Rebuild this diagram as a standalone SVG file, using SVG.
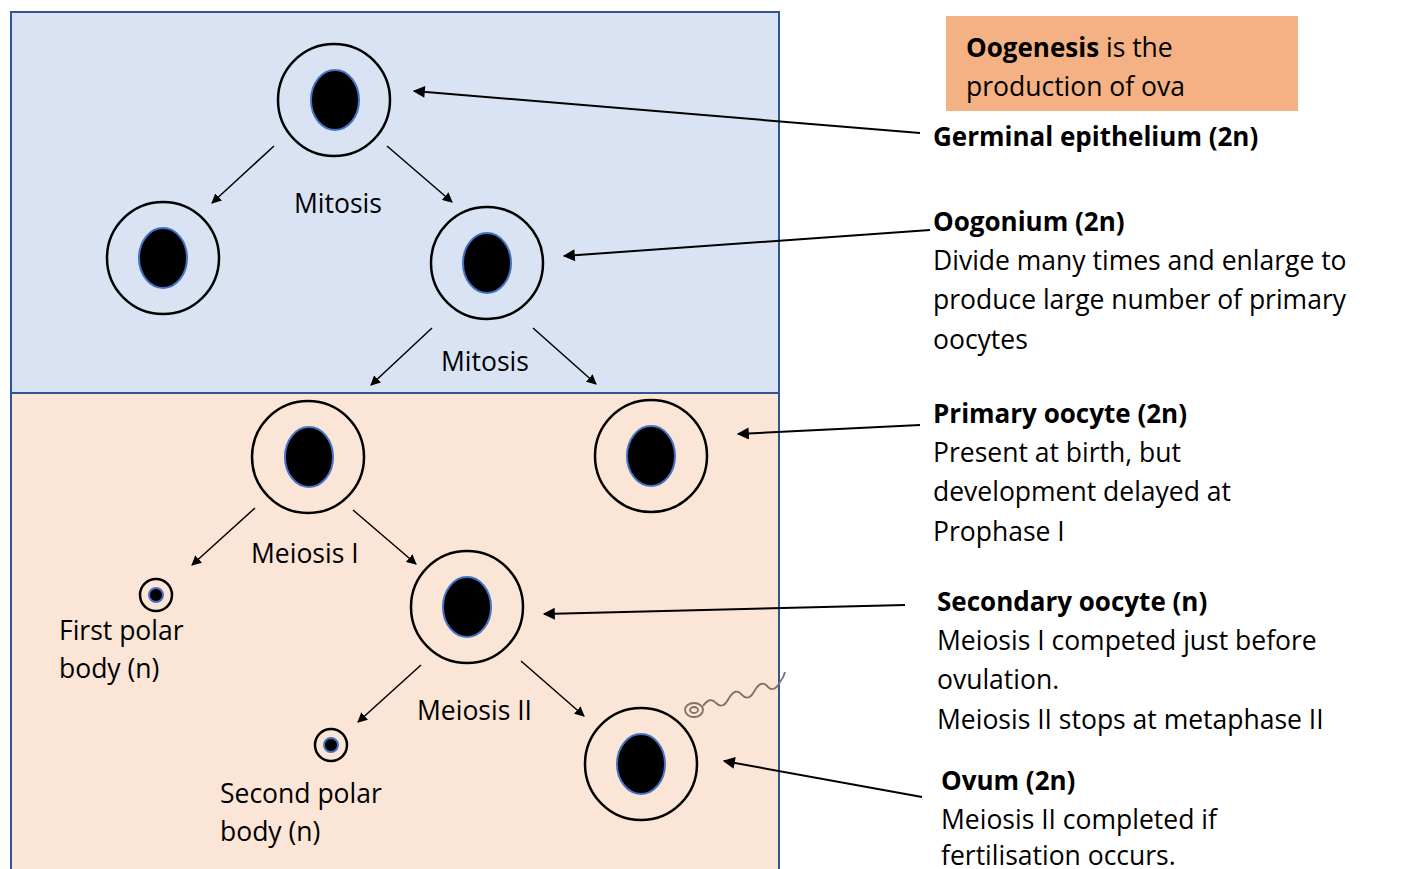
<svg xmlns="http://www.w3.org/2000/svg" width="1419" height="869" viewBox="0 0 1419 869">
<defs>
<marker id="ah" viewBox="0 0 10 10" refX="9" refY="5" markerWidth="10" markerHeight="10" markerUnits="userSpaceOnUse" orient="auto"><path d="M0,0L10,5L0,10z" fill="#000"/></marker>
<marker id="ah2" viewBox="0 0 10 10" refX="9" refY="5" markerWidth="16" markerHeight="12" markerUnits="userSpaceOnUse" orient="auto"><path d="M0,0L10,5L0,10z" fill="#000"/></marker>
<style>
text{font-family:"Open Sans","Liberation Sans",sans-serif;font-size:26.5px;fill:#000}
.b{font-weight:bold;font-size:26px}
.cell{fill:none;stroke:#000;stroke-width:2.5}
.nuc{fill:#000;stroke:#4472c4;stroke-width:2}
.c line{stroke:#000;stroke-width:1.5;marker-end:url(#ah)}
.c .p{stroke-width:2;marker-end:url(#ah2)}
</style>
</defs>
<rect x="11" y="12" width="768" height="381" fill="#dae3f3" stroke="#2f5597" stroke-width="2"/>
<rect x="11" y="393" width="768" height="480" fill="#fbe5d6" stroke="#2f5597" stroke-width="2"/>
<g id="germinal"><circle class="cell" cx="334" cy="100" r="56"/><ellipse class="nuc" cx="335" cy="100" rx="24" ry="30"/></g>
<g id="oog1"><circle class="cell" cx="163" cy="258" r="56"/><ellipse class="nuc" cx="163" cy="258" rx="24" ry="30"/></g>
<g id="oog2"><circle class="cell" cx="487" cy="263" r="56"/><ellipse class="nuc" cx="487" cy="263" rx="24" ry="30"/></g>
<g id="prim1"><circle class="cell" cx="308" cy="457" r="56"/><ellipse class="nuc" cx="309" cy="457" rx="24" ry="30"/></g>
<g id="prim2"><circle class="cell" cx="651" cy="456" r="56"/><ellipse class="nuc" cx="651" cy="456" rx="24" ry="30"/></g>
<g id="sec"><circle class="cell" cx="467" cy="607" r="56"/><ellipse class="nuc" cx="467" cy="607" rx="24" ry="30"/></g>
<g id="ovum"><circle class="cell" cx="641" cy="764" r="56"/><ellipse class="nuc" cx="641" cy="764" rx="24" ry="30"/></g>
<g id="polar1"><circle class="cell" cx="156" cy="595" r="16" stroke-width="2"/><circle class="nuc" cx="156" cy="595" r="7"/></g>
<g id="polar2"><circle class="cell" cx="331" cy="745" r="16" stroke-width="2"/><circle class="nuc" cx="331" cy="745" r="7"/></g>
<g id="sperm" fill="none" stroke="#7f7060" stroke-width="1.8"><ellipse cx="694" cy="710" rx="9" ry="7"/><ellipse cx="694" cy="710" rx="4" ry="3"/><path d="M703,706 q7,-10 13,-3 q7,7 13,-5 q7,-11 13,-3 q7,7 13,-5 q7,-11 13,-3 q6,6 12,-5 q4,-5 5,-10"/></g>
<g class="c">
<line x1="274" y1="146" x2="212" y2="203"/>
<line x1="387" y1="146" x2="452" y2="202"/>
<line x1="432" y1="328" x2="371" y2="385"/>
<line x1="533" y1="328" x2="596" y2="384"/>
<line x1="255" y1="508" x2="192" y2="565"/>
<line x1="353" y1="510" x2="416" y2="564"/>
<line x1="421" y1="665" x2="358" y2="722"/>
<line x1="521" y1="661" x2="584" y2="716"/>
<line class="p" x1="920" y1="133" x2="414" y2="91"/>
<line class="p" x1="930" y1="230" x2="564" y2="256"/>
<line class="p" x1="920" y1="425" x2="738" y2="434"/>
<line class="p" x1="905" y1="605" x2="544" y2="614"/>
<line class="p" x1="922" y1="797" x2="724" y2="761"/>
</g>
<rect x="946" y="16" width="352" height="95" fill="#f4b183"/>
<text x="966" y="57"><tspan class="b">Oogenesis</tspan> is the</text>
<text x="966" y="96">production of ova</text>
<text x="933" y="146" class="b">Germinal epithelium (2n)</text>
<text x="933" y="231" class="b">Oogonium (2n)</text>
<text x="933" y="270">Divide many times and enlarge to</text>
<text x="933" y="309">produce large number of primary</text>
<text x="933" y="349">oocytes</text>
<text x="933" y="423" class="b">Primary oocyte (2n)</text>
<text x="933" y="462">Present at birth, but</text>
<text x="933" y="501">development delayed at</text>
<text x="933" y="541">Prophase I</text>
<text x="937" y="611" class="b">Secondary oocyte (n)</text>
<text x="937" y="650">Meiosis I competed just before</text>
<text x="937" y="689">ovulation.</text>
<text x="937" y="729">Meiosis II stops at metaphase II</text>
<text x="941" y="790" class="b">Ovum (2n)</text>
<text x="941" y="829">Meiosis II completed if</text>
<text x="941" y="865">fertilisation occurs.</text>
<text x="294" y="213">Mitosis</text>
<text x="441" y="371">Mitosis</text>
<text x="251" y="563">Meiosis I</text>
<text x="417" y="720">Meiosis II</text>
<text x="59" y="640">First polar</text>
<text x="59" y="678">body (n)</text>
<text x="220" y="803">Second polar</text>
<text x="220" y="841">body (n)</text>
</svg>
